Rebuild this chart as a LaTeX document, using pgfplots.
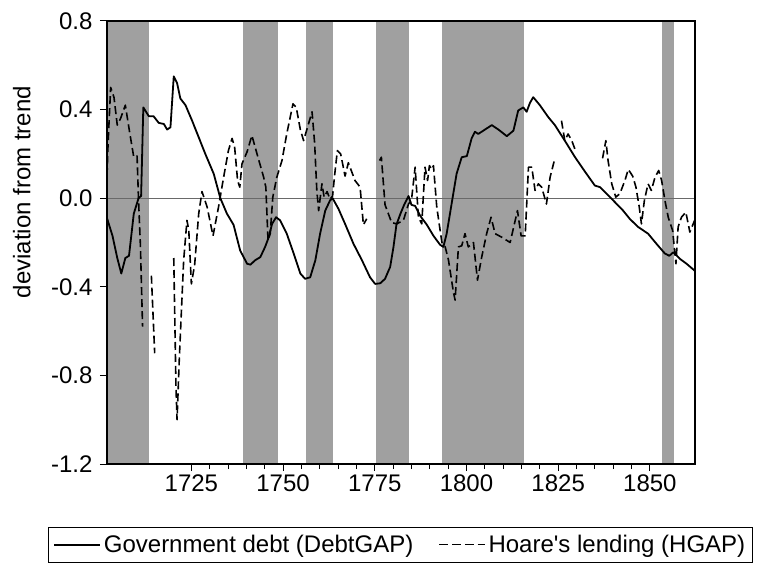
\documentclass[border=0pt]{standalone}
\usepackage{pgfplots}
\usepackage{pgfplotstable}
\pgfplotsset{compat=1.18}
\usepackage{fontspec}
\setmainfont{Liberation Sans}
\definecolor{bandgray}{RGB}{160,160,160}
\definecolor{zerogray}{RGB}{105,105,105}
\newcommand\ff{\fontsize{24}{28}\selectfont}

\pgfplotstableread{
year val
1702.0 -0.09
1703.5 -0.17
1704.8 -0.27
1705.9 -0.34
1707.0 -0.27
1708.0 -0.26
1709.3 -0.07
1710.6 0.0
1711.3 0.01
1711.9 0.41
1713.4 0.37
1714.7 0.37
1716.1 0.34
1717.5 0.335
1718.4 0.31
1719.3 0.32
1720.2 0.55
1721.1 0.52
1722.0 0.45
1723.4 0.42
1725.2 0.35
1727.0 0.275
1728.8 0.20
1731.1 0.11
1732.9 0.0
1734.7 -0.07
1736.5 -0.12
1738.3 -0.236
1740.2 -0.296
1741.1 -0.30
1742.4 -0.28
1743.8 -0.266
1745.1 -0.22
1746.1 -0.176
1747.0 -0.116
1748.1 -0.086
1749.2 -0.10
1751.0 -0.16
1752.9 -0.25
1754.7 -0.34
1756.0 -0.364
1757.4 -0.357
1758.8 -0.28
1760.1 -0.16
1761.5 -0.056
1762.8 -0.01
1763.5 0.0
1765.1 -0.048
1766.9 -0.116
1769.2 -0.206
1771.5 -0.28
1773.7 -0.357
1775.1 -0.387
1776.5 -0.384
1777.8 -0.364
1779.2 -0.31
1780.1 -0.22
1780.9 -0.12
1782.0 -0.07
1783.0 -0.03
1784.2 0.01
1785.0 -0.03
1786.0 -0.035
1787.4 -0.08
1789.2 -0.12
1791.0 -0.17
1792.8 -0.21
1793.7 -0.22
1794.6 -0.16
1795.5 -0.07
1796.4 0.02
1797.3 0.11
1798.7 0.185
1800.1 0.19
1801.4 0.27
1802.3 0.30
1803.2 0.29
1804.6 0.305
1806.9 0.33
1808.7 0.31
1811.0 0.28
1812.8 0.305
1814.1 0.396
1815.5 0.41
1816.4 0.39
1817.3 0.43
1818.2 0.456
1820.0 0.42
1822.3 0.366
1824.1 0.33
1826.8 0.26
1829.6 0.185
1832.3 0.12
1835.0 0.057
1836.4 0.05
1838.2 0.02
1840.0 -0.01
1842.7 -0.056
1844.5 -0.093
1846.8 -0.13
1849.5 -0.16
1851.8 -0.206
1854.1 -0.25
1855.3 -0.26
1856.4 -0.244
1858.2 -0.274
1860.0 -0.296
1862.2 -0.327
}\debt

\pgfplotstableread{
year val
1702.0 0.10
1702.3 0.25
1703.0 0.50
1703.9 0.456
1704.8 0.33
1705.7 0.36
1707.0 0.42
1708.1 0.305
1709.3 0.185
1710.2 0.19
1710.6 -0.01
1711.1 -0.21
1711.7 -0.58
nan nan
1714.1 -0.35
1715.0 -0.70
nan nan
1720.2 -0.27
1720.8 -0.85
1721.1 -1.0
1721.7 -0.73
1722.9 -0.28
1723.8 -0.10
1724.3 -0.146
1725.0 -0.387
1725.9 -0.30
1727.0 -0.07
1727.9 0.03
1729.3 -0.04
1730.9 -0.17
1732.4 -0.04
1733.8 0.095
1735.1 0.215
1736.1 0.27
1736.8 0.23
1737.6 0.08
1738.2 0.05
1738.8 0.155
1740.2 0.21
1741.5 0.283
1742.9 0.20
1744.7 0.095
1745.3 0.05
1745.9 -0.19
1746.5 -0.16
1747.2 0.005
1748.3 0.095
1749.7 0.17
1751.0 0.29
1752.7 0.426
1753.6 0.41
1754.7 0.31
1755.6 0.26
1757.9 0.39
1758.6 0.25
1759.2 0.035
1759.7 -0.056
1760.6 0.065
1761.2 0.005
1762.0 0.03
1762.8 -0.005
1763.5 0.01
1764.0 0.095
1764.8 0.215
1765.7 0.20
1766.9 0.10
1767.8 0.16
1769.6 0.08
1771.0 0.05
1771.9 -0.12
1772.8 -0.093
nan nan
1776.3 0.17
1776.8 0.185
1777.8 -0.03
1779.6 -0.11
1781.0 -0.116
1782.8 -0.10
1784.2 -0.026
1785.0 -0.01
1786.0 0.14
1786.9 -0.086
1787.8 -0.116
1788.7 0.14
1789.4 0.08
1789.9 0.147
1790.5 0.13
1791.0 0.147
1791.9 -0.04
1793.3 -0.20
1794.2 -0.22
1795.1 -0.28
1796.4 -0.42
1796.9 -0.46
1797.8 -0.22
1798.7 -0.215
1799.6 -0.16
1800.5 -0.22
1801.9 -0.20
1803.0 -0.37
1804.1 -0.27
1805.5 -0.16
1806.7 -0.086
1807.8 -0.16
1809.6 -0.176
1811.9 -0.20
1813.9 -0.056
1814.9 -0.17
1816.0 -0.17
1816.9 0.14
1817.8 0.14
1818.7 0.035
1819.6 0.065
1820.5 0.05
1821.8 -0.026
1822.8 0.095
1824.1 0.18
nan nan
1825.9 0.35
1826.8 0.26
1827.7 0.29
1828.7 0.26
1829.6 0.22
nan nan
1837.1 0.18
1838.0 0.26
1838.6 0.17
1839.6 0.065
1840.7 0.005
1841.8 0.02
1843.2 0.08
1844.1 0.13
1845.3 0.10
1846.2 0.05
1847.1 -0.04
1847.7 -0.116
1848.5 -0.01
1849.5 0.065
1850.4 0.035
1851.4 0.095
1852.4 0.125
1853.2 0.08
1854.1 -0.01
1855.0 -0.086
1856.2 -0.146
1857.1 -0.296
1857.7 -0.13
1858.6 -0.086
1859.8 -0.063
1860.9 -0.153
1862.2 -0.10
}\hgap

\begin{document}
\begin{tikzpicture}
\begin{axis}[
  at={(0pt,0pt)}, anchor=south west,
  scale only axis, width=588pt, height=443pt,
  xmin=1702, xmax=1862.3, ymin=-1.2, ymax=0.8,
  axis on top,
  axis line style={line width=1.4pt, black},
  xtick={1725,1750,1775,1800,1825,1850},
  minor x tick num=4,
  ytick={-1.2,-0.8,-0.4,0,0.4,0.8},
  /pgf/number format/assume math mode=true,
  /pgf/number format/1000 sep={},
  yticklabel style={/pgf/number format/fixed, /pgf/number format/fixed zerofill, /pgf/number format/precision=1, xshift=-4pt},
  tick align=outside, xtick pos=bottom, ytick pos=left,
  major tick length=7pt, minor tick length=5pt,
  tick style={line width=1pt, black},
  ticklabel style={font=\ff},
  ylabel={deviation from trend},
  ylabel style={font=\ff, at={(axis description cs:-0.145,0.614)}, anchor=center},
  unbounded coords=jump,
  legend columns=2,
  legend style={at={(axis description cs:-0.100,-0.142)}, anchor=north west,
    draw=black, line width=0.8pt, font=\ff, inner xsep=5pt, inner ysep=6pt,
    nodes={inner xsep=2.5pt},
    /tikz/every even column/.append style={column sep=23pt}},
  legend image code/.code={\draw[#1] (0pt,0pt) -- (46pt,0pt);},
]
\addplot[fill=bandgray, draw=none, forget plot] coordinates {(1702,-1.2) (1702,0.8) (1713.4,0.8) (1713.4,-1.2)};
\addplot[fill=bandgray, draw=none, forget plot] coordinates {(1739.2,-1.2) (1739.2,0.8) (1748.6,0.8) (1748.6,-1.2)};
\addplot[fill=bandgray, draw=none, forget plot] coordinates {(1756.2,-1.2) (1756.2,0.8) (1763.6,0.8) (1763.6,-1.2)};
\addplot[fill=bandgray, draw=none, forget plot] coordinates {(1775.3,-1.2) (1775.3,0.8) (1784.4,0.8) (1784.4,-1.2)};
\addplot[fill=bandgray, draw=none, forget plot] coordinates {(1793.2,-1.2) (1793.2,0.8) (1815.6,0.8) (1815.6,-1.2)};
\addplot[fill=bandgray, draw=none, forget plot] coordinates {(1853.4,-1.2) (1853.4,0.8) (1856.5,0.8) (1856.5,-1.2)};
\addplot[zerogray, line width=1pt, forget plot] coordinates {(1702,0) (1862.3,0)};
\addplot[black, line width=1.8pt, line join=round] table[x=year, y=val] {\debt};
\addlegendentry{Government debt (DebtGAP)}
\addplot[black, line width=1.6pt, line join=round, dash pattern=on 8pt off 4pt,
  legend image post style={dash pattern=on 9pt off 3.7pt, line width=1.2pt}] table[x=year, y=val] {\hgap};
\addlegendentry{Hoare\textquotesingle s lending (HGAP)}
\end{axis}
\pgfresetboundingbox
\useasboundingbox (-107pt,-98pt) rectangle (653pt,464pt);
\end{tikzpicture}
\end{document}
